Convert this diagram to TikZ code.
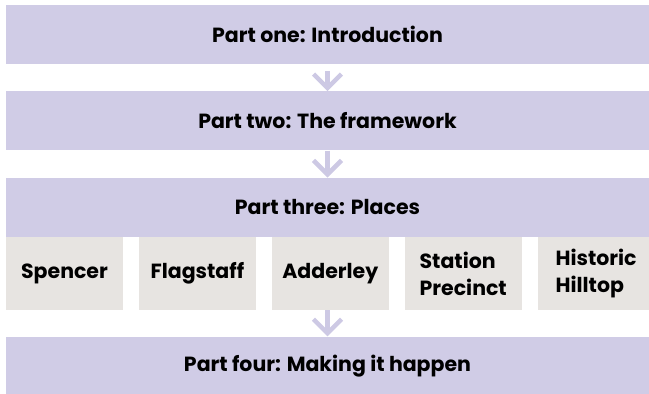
\documentclass[tikz,border=0pt]{standalone}
\usepackage{fontspec}
\setmainfont{Poppins}
\usetikzlibrary{arrows.meta, positioning}
\definecolor{partlilac}{RGB}{208, 204, 230}
\definecolor{placegrey}{RGB}{231, 228, 225}
\definecolor{flowlilac}{RGB}{205, 201, 228}

\begin{document}
\begin{tikzpicture}[
    x=1pt, y=1pt,
    partbar/.style={rectangle, fill=partlilac, minimum width=643pt, minimum height=59pt, inner sep=0pt, font=\fontsize{20.5}{24}\selectfont\bfseries},
    place/.style={rectangle, fill=placegrey, minimum width=117pt, minimum height=73pt, inner sep=0pt, align=left, font=\fontsize{20.5}{27}\selectfont\bfseries},
    flow/.style={-{Straight Barb[length=14pt, width=28pt]}, line width=4.5pt, flowlilac}
]
\useasboundingbox (0,0) rectangle (649,-394);

% Parts
\node[partbar] (p1) at (327.5,-34.5) {Part one: Introduction};
\node[partbar, below=27pt of p1] (p2) {Part two: The framework};
\node[partbar, below=27pt of p2] (p3) {Part three: Places};

% Places (under part three)
\node[place, anchor=north west] (spencer) at (p3.south west) {Spencer};
\node[place, right=15.5pt of spencer] (flagstaff) {Flagstaff};
\node[place, right=15.5pt of flagstaff] (adderley) {Adderley};
\node[place, right=15.5pt of adderley] (station) {Station\\Precinct};
\node[place, right=15.5pt of station] (hilltop) {Historic\\Hilltop};

\node[partbar, anchor=north] (p4) at ([yshift=-26pt]p3.south |- adderley.south) {Part four: Making it happen};

% Arrows between parts
\draw[flow, shorten <=7pt] (p1) -- (p2);
\draw[flow] (p2) -- (p3);
\draw[flow] (p4.north |- adderley.south) -- (p4.north);

\end{tikzpicture}
\end{document}
